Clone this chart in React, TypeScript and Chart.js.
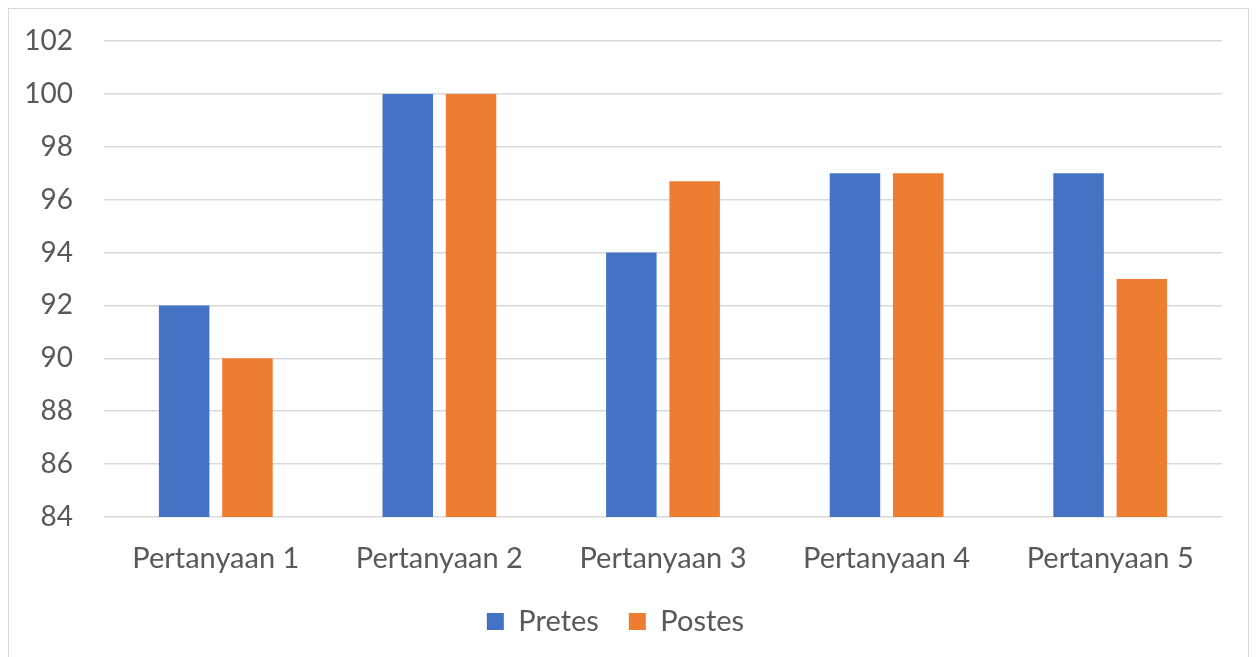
import React, { useEffect, useRef } from "react";
import { Chart, registerables } from "chart.js";

Chart.register(...registerables);

const categories = ["Pertanyaan 1", "Pertanyaan 2", "Pertanyaan 3", "Pertanyaan 4", "Pertanyaan 5"];
const pretes = [92, 100, 94, 97, 97];
const postes = [90, 100, 96.7, 97, 93];
const yMin = 84;
const yMax = 102;
const yStep = 2;

const FONT = "Lato, 'Open Sans', sans-serif";
const TEXT = "#595959";
const GRID = "#d9d9d9";

export default function App() {
  const ref = useRef<HTMLCanvasElement | null>(null);

  useEffect(() => {
    if (!ref.current) return;
    const chart = new Chart(ref.current, {
      type: "bar",
      data: {
        labels: categories,
        datasets: [
          {
            label: "Pretes",
            data: pretes,
            backgroundColor: "#4472C4",
            categoryPercentage: 0.566,
            barPercentage: 0.798,
          },
          {
            label: "Postes",
            data: postes,
            backgroundColor: "#ED7D31",
            categoryPercentage: 0.566,
            barPercentage: 0.798,
          },
        ],
      },
      options: {
        animation: false,
        responsive: true,
        maintainAspectRatio: false,
        layout: { padding: { top: 32, right: 26, left: 0, bottom: 43 } },
        plugins: {
          tooltip: { enabled: false },
          legend: {
            position: "bottom",
            labels: {
              color: TEXT,
              font: { family: FONT, size: 29 },
              boxWidth: 17,
              boxHeight: 17,
              padding: 30,
            },
          },
        },
        scales: {
          x: {
            grid: { display: false },
            border: { display: false },
            ticks: { color: TEXT, font: { family: FONT, size: 29 }, padding: 16 },
            afterFit: (scale: any) => {
              scale.height = 60;
            },
          },
          y: {
            min: yMin,
            max: yMax,
            ticks: {
              stepSize: yStep,
              color: TEXT,
              font: { family: FONT, size: 28 },
              padding: 31,
            },
            grid: { color: GRID, lineWidth: 1.5, drawTicks: false },
            border: { display: false },
            afterFit: (scale: any) => {
              // fixed label column; the horizontal tick padding must not push the plot down
              scale.width = 95;
              scale.paddingTop = 0;
              scale.paddingBottom = 0;
            },
          },
        },
      },
    });
    return () => chart.destroy();
  }, []);

  return (
    <div style={{ border: "1px solid #d9d9d9", height: 680, position: "relative", background: "#fff" }}>
      <canvas ref={ref} />
    </div>
  );
}
